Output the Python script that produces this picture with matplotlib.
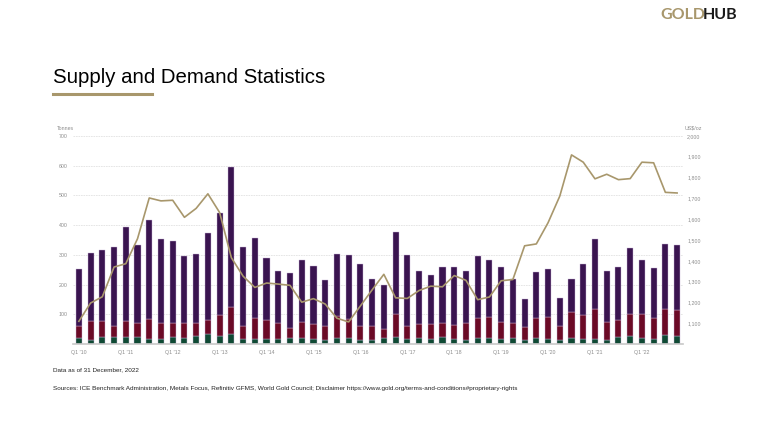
import numpy as np
import matplotlib.pyplot as plt
from matplotlib.lines import Line2D

# Quarterly data, Q1'10 - Q4'22
quarters = [f"Q{q} '{y:02d}" for y in range(10, 23) for q in range(1, 5)]

# tonnes (bottom -> top)
medals = [21, 15, 23, 23, 23, 23, 18, 16, 25, 21, 28, 32, 28,
          35, 16, 18, 16, 18, 21, 21, 16, 15, 21, 21, 12, 12,
          19, 23, 16, 19, 17, 23, 16, 15, 21, 21, 16, 19, 12,
          19, 16, 12, 21, 18, 18, 12, 23, 28, 19, 16, 29, 26]
coin_top = [61, 77, 77, 62, 79, 70, 84, 72, 72, 69, 72, 81, 99,
            123, 59, 87, 82, 69, 55, 75, 66, 62, 94, 84, 61, 60,
            52, 100, 59, 66, 66, 69, 65, 69, 88, 90, 73, 70, 56,
            88, 92, 62, 107, 99, 119, 75, 80, 102, 102, 86, 119, 116]
total = [251, 305, 316, 326, 393, 332, 417, 352, 345, 295, 302, 373, 441,
         597, 325, 357, 291, 247, 239, 282, 264, 217, 303, 298, 270, 219,
         198, 378, 301, 245, 231, 258, 260, 245, 295, 281, 258, 218, 150,
         241, 251, 156, 219, 268, 352, 245, 260, 324, 281, 255, 338, 332]

# US$/oz
gold_price = [1109, 1197, 1227, 1370, 1386, 1506, 1702, 1688, 1691, 1609, 1652, 1722, 1632,
              1415, 1326, 1272, 1293, 1288, 1282, 1201, 1218, 1192, 1124, 1106, 1183, 1260,
              1335, 1222, 1219, 1257, 1278, 1275, 1329, 1306, 1213, 1226, 1304, 1310, 1472,
              1481, 1583, 1711, 1909, 1874, 1794, 1816, 1790, 1795, 1874, 1871, 1729, 1726]

medals = np.array(medals)
coins = np.array(coin_top) - medals
bars = np.array(total) - np.array(coin_top)

GOLD = '#a8976c'
PURPLE = '#3a1450'
RED = '#6b0a26'
GREEN = '#0f4a34'
GREY = '#8c8c8c'

plt.rcParams['font.family'] = ['Liberation Sans', 'DejaVu Sans']

fig = plt.figure(figsize=(7.58, 4.26), dpi=100)
ax = fig.add_axes([0.0963, 0.1925, 0.8047, 0.4883])

x = np.arange(len(quarters))
w = 0.52
edge = dict(edgecolor='#c9b3d6', linewidth=0.3)
ax.bar(x, medals, w, color=GREEN, zorder=2, **edge)
ax.bar(x, coins, w, bottom=medals, color=RED, zorder=2, **edge)
ax.bar(x, bars, w, bottom=medals + coins, color=PURPLE, zorder=2, **edge)

ax.set_xlim(-0.5, len(quarters) - 0.5)
ax.set_ylim(0, 700)
ax.set_yticks(range(0, 701, 100))
ax.set_yticklabels([''] + [str(v) for v in range(100, 701, 100)])
ax.grid(axis='y', color='#e2e2e2', linestyle=(0, (2, 1)), linewidth=0.6, zorder=0)
ax.set_xticks(x[::4])
ax.set_xticklabels(quarters[::4])
ax.tick_params(length=0, labelsize=3.8, colors=GREY, pad=4)
for s in ['top', 'right', 'left']:
    ax.spines[s].set_visible(False)
ax.spines['bottom'].set_color('#c8c8c8')
ax.spines['bottom'].set_linewidth(1.2)

ax2 = ax.twinx()
ax2.plot(x, gold_price, color=GOLD, linewidth=1.2, zorder=3)
ax2.set_ylim(1000, 2000)
ax2.set_yticks(range(1100, 2001, 100))
ax2.set_yticklabels([f'{v:,}' for v in range(1100, 2001, 100)])
ax2.tick_params(length=0, labelsize=3.8, colors=GREY, pad=3)
for s in ax2.spines.values():
    s.set_visible(False)

fig.text(0.0752, 0.693, 'Tonnes', fontsize=3.8, color=GREY, va='bottom')
fig.text(0.903, 0.693, 'US$/oz', fontsize=3.8, color=GREY, va='bottom')

# header
fig.text(0.0703, 0.806, 'Supply and Demand Statistics', fontsize=14.7, color='black', va='baseline')
fig.add_artist(Line2D([0.0703, 0.2002], [0.7786, 0.7786], color=GOLD, linewidth=2.2))
fig.text(0.871, 0.965, 'GOLD', fontsize=11.5, fontweight='bold', color=GOLD, va='center',
         family=['Lato', 'DejaVu Sans'])
fig.text(0.927, 0.965, 'HUB', fontsize=11.5, fontweight='bold', color='#1a1a1a', va='center',
         family=['Lato', 'DejaVu Sans'])

# footer
fig.text(0.0703, 0.131, 'Data as of 31 December, 2022', fontsize=4.6, color='#222222', va='center')
fig.text(0.0703, 0.089, 'Sources: ICE Benchmark Administration, Metals Focus, Refinitiv GFMS, World Gold Council; '
         'Disclaimer https://www.gold.org/terms-and-conditions#proprietary-rights',
         fontsize=4.6, color='#222222', va='center')

fig.savefig('out.png', dpi=100, facecolor='white')
